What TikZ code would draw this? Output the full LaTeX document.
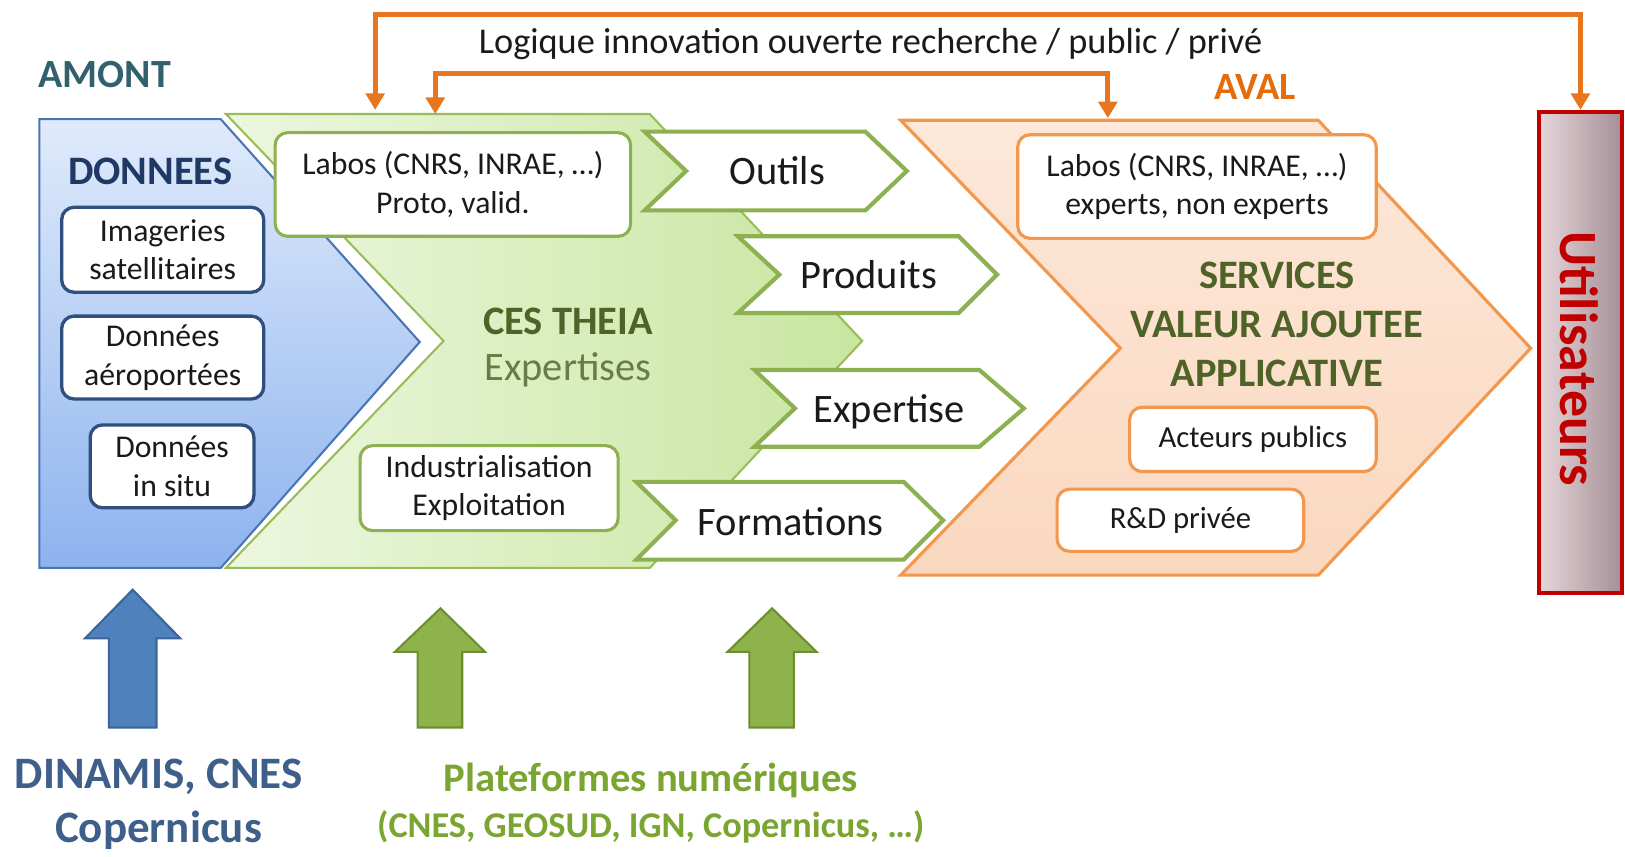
\documentclass[tikz,border=0pt]{standalone}
\usepackage{fontspec}
\setmainfont{Carlito}
\usetikzlibrary{arrows.meta}
\definecolor{bluebd}{HTML}{4A74B4}
\definecolor{bluetop}{HTML}{E0EBFB}
\definecolor{bluebot}{HTML}{8DB3EE}
\definecolor{boxblue}{HTML}{2F4F7F}
\definecolor{greenbd}{HTML}{9BBB59}
\definecolor{greenbx}{HTML}{8DB050}
\definecolor{greenL}{HTML}{ECF7DF}
\definecolor{greenR}{HTML}{C8E6A0}
\definecolor{olive}{HTML}{4F6228}
\definecolor{olivel}{HTML}{6A7B45}
\definecolor{orangebd}{HTML}{F2974C}
\definecolor{orangeT}{HTML}{FDE8D9}
\definecolor{orangeB}{HTML}{FAD8C0}
\definecolor{orangeline}{HTML}{E8761E}
\definecolor{avalc}{HTML}{E46C0A}
\definecolor{amontc}{HTML}{31616F}
\definecolor{navy}{HTML}{1F3864}
\definecolor{darkred}{HTML}{C00000}
\definecolor{utilL}{HTML}{E6D6DA}
\definecolor{utilR}{HTML}{A48F95}
\definecolor{dinamisc}{HTML}{3E5F8A}
\definecolor{platc}{HTML}{7AA531}
\definecolor{arrblue}{HTML}{4F81BD}
\definecolor{arrblueD}{HTML}{3C6496}
\definecolor{arrgreen}{HTML}{8EB24C}
\definecolor{arrgreenD}{HTML}{6D8E2F}
\definecolor{txt}{HTML}{1A1A1A}
\newcommand\myfs[2]{\fontsize{#1}{#2}\selectfont}
\begin{document}
\begin{tikzpicture}[x=0.5pt,y=-0.5pt,
  wbox/.style={draw, fill=white, rounded corners=6pt, align=center, inner sep=0pt, text=txt, font=\myfs{15.3}{18.5}},
  bluebox/.style={wbox, draw=boxblue, line width=1.6pt},
  greenbox/.style={wbox, draw=greenbx, line width=1.5pt},
  orangebox/.style={wbox, draw=orangebd, line width=1.5pt},
  chev/.style={draw=greenbx, line width=2pt, fill=white, line join=miter},
  chevtxt/.style={font=\myfs{19.5}{23}, inner sep=0pt, text=txt},
  oarrow/.style={draw=orangeline, line width=2.5pt, line join=miter, {Triangle[width=9pt,length=8pt]}-{Triangle[width=9pt,length=8pt]}},
  blockblue/.style={draw=arrblueD, line width=1pt, fill=arrblue},
  blockgreen/.style={draw=arrgreenD, line width=1pt, fill=arrgreen},
  title/.style={font=\bfseries\myfs{19.5}{23.75}, inner sep=0pt, align=center}
]
\useasboundingbox (0,0) rectangle (1568,826);

% big panels
\draw[draw=bluebd, line width=1pt, top color=bluetop, bottom color=bluebot]
  (38,115) -- (213,115) -- (405,330) -- (213,548) -- (38,548) -- cycle;
\draw[draw=greenbd, line width=1pt, left color=greenL, right color=greenR]
  (218,110) -- (627,110) -- (832,329) -- (627,548) -- (218,548) -- (428,329) -- cycle;
\draw[draw=orangebd, line width=1.5pt, top color=orangeT, bottom color=orangeB, line join=miter]
  (869,116) -- (1272,116) -- (1477,336) -- (1272,555) -- (869,555) -- (1081,336) -- cycle;

% small chevrons
\draw[chev] (622,127) -- (835,127) -- (875,165) -- (835,203) -- (622,203) -- (662,165) -- cycle;
\draw[chev] (712,228) -- (925,228) -- (962,265) -- (925,302) -- (712,302) -- (752,265) -- cycle;
\draw[chev] (728,357) -- (945,357) -- (988,394) -- (945,431) -- (728,431) -- (767,394) -- cycle;
\draw[chev] (614,465) -- (872,465) -- (910,502) -- (872,540) -- (614,540) -- (652,502) -- cycle;
\node[chevtxt] (outils) at (750,165) {Outils};
\node[chevtxt] (produits) at (838,265) {Produits};
\node[chevtxt] (expertise) at (858,397) {Expertise};
\node[chevtxt] (formations) at (763,503) {Formations};

% headings
\node[font=\bfseries\myfs{19.3}{23}, text=amontc, inner sep=0pt] (amont) at (101,72) {AMONT};
\node[font=\bfseries\myfs{18.6}{23}, text=avalc, inner sep=0pt] (aval) at (1211,84) {AVAL};
\node[font=\myfs{17.5}{21}, text=txt, inner sep=0pt] (logique) at (840,42) {Logique innovation ouverte recherche / public / privé};
\node[title, text=navy] (donnees) at (145,165) {DONNEES};
\node[title, text=olive] (ces) at (548,310) {CES THEIA};
\node[font=\myfs{19.5}{23}, text=olivel, inner sep=0pt] (expertises) at (548,357) {Expertises};
\node[title, text=olive] (services) at (1232,313) {SERVICES\\VALEUR AJOUTEE\\APPLICATIVE};

% blue boxes
\node[bluebox, minimum width=97.5pt, minimum height=41pt] (b1) at (157,241) {Imageries\\satellitaires};
\node[bluebox, minimum width=97.5pt, minimum height=40pt] (b2) at (157,345) {Données\\aéroportées};
\node[bluebox, minimum width=79pt, minimum height=40pt] (b3) at (166,450) {Données\\in situ};

% green boxes
\node[greenbox, minimum width=171.5pt, minimum height=50pt] (g1) at (437,178) {Labos (CNRS, INRAE, …)\\Proto, valid.};
\node[greenbox, minimum width=124.5pt, minimum height=41pt] (g2) at (472,471) {Industrialisation\\Exploitation};

% orange boxes
\node[orangebox, minimum width=173pt, minimum height=50pt] (o1) at (1155,180) {Labos (CNRS, INRAE, …)\\experts, non experts};
\node[orangebox, minimum width=119pt, minimum height=31pt, font=\myfs{14.8}{18}] (o2) at (1209,424) {Acteurs publics};
\node[orangebox, minimum width=119pt, minimum height=30pt, font=\myfs{14.8}{18}] (o3) at (1139,502) {R\&D privée};

% utilisateurs
\node[draw=darkred, line width=2pt, left color=utilL, right color=utilR, minimum width=40pt, minimum height=232pt, inner sep=0pt] (util) at (1525,340) {};
\node[rotate=-90, font=\bfseries\myfs{26}{30}, text=darkred, inner sep=0pt] (utiltxt) at (1524,346) {Utilisateurs};

% orange connectors
\coordinate (ytop) at (0,14);
\coordinate (ymid) at (0,71);
\coordinate (gA) at (362,106);
\coordinate (gB) at (420,110);
\coordinate (oB) at (1069,114);
\draw[oarrow] (gA) -- (gA |- ytop) -- (util.north |- ytop) -- (util.north);
\draw[oarrow] (gB) -- (gB |- ymid) -- (oB |- ymid) -- (oB);

% block arrows
\draw[blockblue] (128,569) -- (174,616) -- (151,616) -- (151,702) -- (105,702) -- (105,616) -- (82,616) -- cycle;
\draw[blockgreen] (425,587) -- (468,629) -- (446,629) -- (446,702) -- (403,702) -- (403,629) -- (381,629) -- cycle;
\draw[blockgreen] (745,587) -- (788,629) -- (766,629) -- (766,702) -- (723,702) -- (723,629) -- (702,629) -- cycle;

% bottom texts
\node[font=\bfseries\myfs{21.7}{26}, text=dinamisc, align=center, inner sep=0pt] (dinamis) at (153,776) {DINAMIS, CNES\\Copernicus};
\node[font=\bfseries\myfs{19.6}{23}, text=platc, inner sep=0pt] (plat) at (628,753) {Plateformes numériques};
\node[font=\bfseries\myfs{17.5}{21}, text=platc, inner sep=0pt] (platlist) at (628,798) {(CNES, GEOSUD, IGN, Copernicus, …)};
\end{tikzpicture}
\end{document}
